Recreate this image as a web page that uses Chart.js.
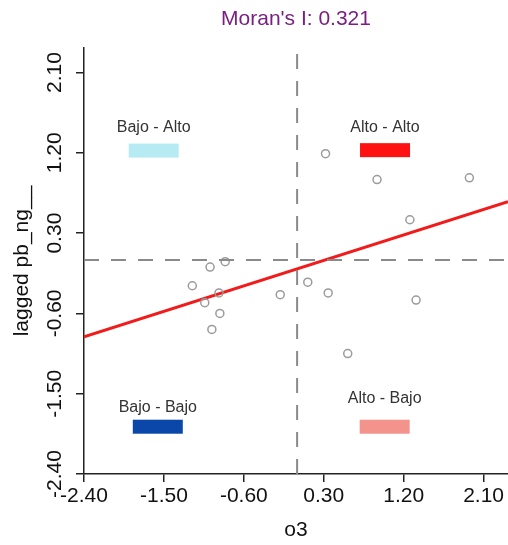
<!DOCTYPE html>
<html>
<head>
<meta charset="utf-8">
<script src="https://cdn.jsdelivr.net/npm/chart.js@4"></script>
<style>
  html, body { margin: 0; padding: 0; background: #fff; }
  #wrap { width: 508px; height: 545px; }
</style>
</head>
<body>
<div id="wrap"><canvas id="moranChart" width="508" height="545"></canvas></div>
<script>
// values
const o3Values = [0.32, 0.90, 1.94, 1.27, -0.81, -0.98, -1.18, -0.88, -1.04, -0.87, -0.96, -0.19, 0.12, 0.35, 1.34, 0.57];
const laggedValues = [1.19, 0.90, 0.92, 0.45, -0.02, -0.08, -0.29, -0.37, -0.48, -0.60, -0.78, -0.39, -0.25, -0.37, -0.45, -1.05];
const fitX = [-2.40, 2.375];
const fitY = [-0.862, 0.652];
const xTicks = [-2.40, -1.50, -0.60, 0.30, 1.20, 2.10];
const yTicks = [-2.40, -1.50, -0.60, 0.30, 1.20, 2.10];
const axisMin = -2.40;
const axisMax = 2.375;
const moranI = 0.321;
const quadrantNames = ['Bajo - Alto', 'Alto - Alto', 'Bajo - Bajo', 'Alto - Bajo'];

// where each quadrant key sits (data units) and its colour
const quadrantStyle = [
    { x: -1.615, y: 1.225, labelY: 1.481, color: '#b7ebf4' },
    { x: 0.99, y: 1.23, labelY: 1.481, color: '#ff1111' },
    { x: -1.569, y: -1.87, labelY: -1.653, color: '#0a47a8' },
    { x: 0.986, y: -1.87, labelY: -1.552, color: '#f4928c' }
];

const FONT = "'Liberation Sans', Arial, Helvetica, sans-serif";

const points = o3Values.map((v, i) => ({ x: v, y: laggedValues[i] }));
const fitLine = fitX.map((v, i) => ({ x: v, y: fitY[i] }));

// quadrant keys, rotated y tick labels and titles
const extrasPlugin = {
    id: 'extras',
    afterDraw(chart) {
        const ctx = chart.ctx;
        const xs = chart.scales.x;
        const ys = chart.scales.y;
        const area = chart.chartArea;
        ctx.save();

        quadrantNames.forEach((name, i) => {
            const q = quadrantStyle[i];
            const cx = xs.getPixelForValue(q.x);
            const cy = ys.getPixelForValue(q.y);
            ctx.fillStyle = q.color;
            ctx.fillRect(cx - 25, cy - 7, 50, 14);
            ctx.fillStyle = '#333';
            ctx.font = '16px ' + FONT;
            ctx.textAlign = 'center';
            ctx.textBaseline = 'middle';
            ctx.fillText(name, cx, ys.getPixelForValue(q.labelY));
        });

        // y tick labels, rotated like base R
        ctx.fillStyle = '#111';
        ctx.font = '21px ' + FONT;
        yTicks.forEach(v => {
            ctx.save();
            ctx.translate(55, ys.getPixelForValue(v));
            ctx.rotate(-Math.PI / 2);
            ctx.textAlign = 'center';
            ctx.textBaseline = 'middle';
            ctx.fillText(v.toFixed(2), 0, 0);
            ctx.restore();
        });

        // axis titles
        ctx.save();
        ctx.translate(22, (area.top + area.bottom) / 2);
        ctx.rotate(-Math.PI / 2);
        ctx.textAlign = 'center';
        ctx.textBaseline = 'middle';
        ctx.fillText('lagged pb_ng__', 0, 0);
        ctx.restore();

        const midX = (area.left + area.right) / 2;
        ctx.textAlign = 'center';
        ctx.textBaseline = 'middle';
        ctx.fillText('o3', midX, 530);

        ctx.fillStyle = '#7a1f82';
        ctx.fillText("Moran's I: " + moranI.toFixed(3), midX, 19);
        ctx.restore();
    }
};

const ctx = document.getElementById('moranChart').getContext('2d');
const moranChart = new Chart(ctx, {
    type: 'scatter',
    data: {
        datasets: [
            {
                label: 'vertical',
                type: 'line',
                data: [{ x: 0, y: axisMin }, { x: 0, y: axisMax }],
                borderColor: '#8a8a8a',
                borderWidth: 2,
                borderDash: [15, 12],
                pointRadius: 0
            },
            {
                label: 'horizontal',
                type: 'line',
                data: [{ x: axisMin, y: 0 }, { x: axisMax, y: 0 }],
                borderColor: '#8a8a8a',
                borderWidth: 2,
                borderDash: [15, 12],
                pointRadius: 0
            },
            {
                label: 'points',
                data: points,
                pointStyle: 'circle',
                pointRadius: 4,
                backgroundColor: 'rgba(0,0,0,0)',
                borderColor: '#9b9b9b',
                borderWidth: 1.5
            },
            {
                label: 'fit',
                type: 'line',
                data: fitLine,
                borderColor: '#f21b1b',
                borderWidth: 3,
                pointRadius: 0,
                tension: 0
            }
        ]
    },
    options: {
        responsive: false,
        animation: false,
        events: [],
        layout: { autoPadding: false, padding: { top: 48, right: 0, bottom: 0, left: 0 } },
        plugins: {
            legend: { display: false },
            tooltip: { enabled: false }
        },
        scales: {
            x: {
                type: 'linear',
                min: axisMin,
                max: axisMax,
                afterBuildTicks: s => { s.ticks = xTicks.map(v => ({ value: v })); },
                afterFit: s => { s.height = 71; s.paddingLeft = 0; s.paddingRight = 0; },
                border: { display: true, color: '#222', width: 1.5 },
                grid: { display: true, drawOnChartArea: false, drawTicks: true, tickLength: 8, color: '#222', lineWidth: 1.5 },
                ticks: {
                    color: '#111',
                    font: { family: FONT, size: 21 },
                    padding: 2,
                    maxRotation: 0,
                    autoSkip: false,
                    callback: v => v.toFixed(2)
                }
            },
            y: {
                type: 'linear',
                min: axisMin,
                max: axisMax,
                afterBuildTicks: s => { s.ticks = yTicks.map(v => ({ value: v })); },
                afterFit: s => { s.width = 84; s.paddingTop = 0; s.paddingBottom = 0; },
                border: { display: true, color: '#222', width: 1.5 },
                grid: { display: true, drawOnChartArea: false, drawTicks: true, tickLength: 8, color: '#222', lineWidth: 1.5 },
                ticks: { display: false }
            }
        }
    },
    plugins: [extrasPlugin]
});
</script>
</body>
</html>
